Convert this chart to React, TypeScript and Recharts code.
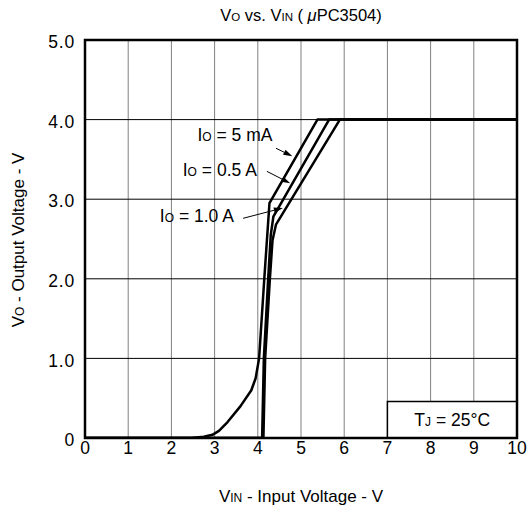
import { LineChart, Line, XAxis, YAxis, CartesianGrid, ReferenceArea, ReferenceLine, ReferenceDot, Label } from 'recharts';

const FONT = '"Liberation Sans", Arial, sans-serif';

const xTicks = [0, 1, 2, 3, 4, 5, 6, 7, 8, 9, 10];
const yTicks = [0, 1, 2, 3, 4, 5];

// Io = 5 mA
const vin5mA = [0, 2.45, 2.75, 2.95, 3.1, 3.3, 3.6, 3.85, 3.95, 4.03, 4.15, 4.27, 5.38, 10];
const vo5mA = [0, 0, 0.015, 0.04, 0.09, 0.2, 0.4, 0.6, 0.75, 1.0, 2.0, 2.95, 4.0, 4.0];
// Io = 0.5 A
const vin05A = [0, 4.1, 4.14, 4.24, 4.3, 4.36, 5.65, 10];
const vo05A = [0, 0, 1.0, 2.0, 2.55, 2.78, 4.0, 4.0];
// Io = 1.0 A
const vin10A = [0, 4.13, 4.17, 4.28, 4.34, 4.42, 5.9, 10];
const vo10A = [0, 0, 1.0, 2.0, 2.48, 2.68, 4.0, 4.0];

const toPoints = (xs: number[], ys: number[]) => xs.map((vin, i) => ({ vin, vo: ys[i] }));

const Arrow = (props: any) => {
  const { x1, y1, x2, y2 } = props;
  const ang = Math.atan2(y2 - y1, x2 - x1);
  const len = 9;
  const w = 2.8;
  const bx = x2 - len * Math.cos(ang);
  const by = y2 - len * Math.sin(ang);
  const px = -Math.sin(ang) * w;
  const py = Math.cos(ang) * w;
  return (
    <g>
      <line x1={x1} y1={y1} x2={bx} y2={by} stroke="#000" strokeWidth={1} />
      <polygon points={`${x2},${y2} ${bx + px},${by + py} ${bx - px},${by - py}`} fill="#000" />
    </g>
  );
};

const ioText = (value: string) => (props: any) => (
  <text x={props.cx} y={props.cy} dy="0.35em" textAnchor="middle" fontSize={17.5} fontFamily={FONT} fill="#000">
    I<tspan fontSize={12}>O</tspan> = {value}
  </text>
);

const XTitle = (props: any) => {
  const { viewBox } = props;
  return (
    <text x={viewBox.x + viewBox.width / 2} y={502} textAnchor="middle" fontSize={17} fontFamily={FONT} fill="#000">
      V<tspan fontSize={12}>IN</tspan> - Input Voltage - V
    </text>
  );
};

const YTitle = () => {
  const cy = 240;
  const cx = 24;
  return (
    <text x={cx} y={cy} transform={`rotate(-90 ${cx} ${cy})`} textAnchor="middle" fontSize={17} fontFamily={FONT} fill="#000">
      V<tspan fontSize={12}>O</tspan> - Output Voltage - V
    </text>
  );
};

const BoxLabel = (props: any) => {
  const { viewBox } = props;
  return (
    <text x={viewBox.x + viewBox.width / 2} y={viewBox.y + viewBox.height / 2} dy="0.35em" textAnchor="middle" fontSize={17.5} fontFamily={FONT} fill="#000">
      T<tspan fontSize={12}>J</tspan> = 25°C
    </text>
  );
};

export default function App() {
  return (
    <div style={{ position: 'absolute', left: 0, top: 0, width: 530, height: 515, background: '#fff' }}>
      <svg width={530} height={30} style={{ position: 'absolute', left: 0, top: 0 }}>
        <text x={301} y={21} textAnchor="middle" fontSize={16.5} fontFamily={FONT} fill="#000">
          V<tspan fontSize={11.5}>O</tspan> vs. V<tspan fontSize={11.5}>IN</tspan> ( <tspan fontStyle="italic">μ</tspan>PC3504)
        </text>
      </svg>
      <LineChart width={530} height={515} margin={{ top: 40, right: 13, bottom: 0, left: 0 }}>
        <CartesianGrid horizontal={false} stroke="#808080" strokeWidth={1} />
        <CartesianGrid vertical={false} stroke="#000" strokeWidth={1} />
        <XAxis
          dataKey="vin"
          type="number"
          domain={[0, 10]}
          ticks={xTicks}
          interval={0}
          allowDataOverflow
          axisLine={false}
          tickLine={false}
          tickSize={4}
          tickMargin={0}
          height={77}
          tick={{ fontSize: 17.5, fill: '#000', fontFamily: FONT }}
        >
          <Label content={XTitle} />
        </XAxis>
        <YAxis
          type="number"
          domain={[0, 5]}
          ticks={yTicks}
          interval={0}
          allowDataOverflow
          axisLine={false}
          tickLine={false}
          tickSize={8}
          tickMargin={2}
          width={85}
          tickFormatter={(v: number) => (v === 0 ? '0' : v.toFixed(1))}
          tick={{ fontSize: 17.5, fill: '#000', fontFamily: FONT, dy: 2, letterSpacing: 0.8 }}
        >
          <Label content={YTitle} />
        </YAxis>
        <ReferenceArea x1={7} x2={10} y1={0} y2={0.46} fill="#fff" fillOpacity={1} stroke="#000" strokeWidth={1.5} label={<Label content={BoxLabel} />} />
        <Line data={toPoints(vin5mA, vo5mA)} dataKey="vo" type="linear" stroke="#000" strokeWidth={2.5} strokeLinejoin="round" dot={false} isAnimationActive={false} />
        <Line data={toPoints(vin05A, vo05A)} dataKey="vo" type="linear" stroke="#000" strokeWidth={2.5} strokeLinejoin="round" dot={false} isAnimationActive={false} />
        <Line data={toPoints(vin10A, vo10A)} dataKey="vo" type="linear" stroke="#000" strokeWidth={2.5} strokeLinejoin="round" dot={false} isAnimationActive={false} />
        <ReferenceArea x1={0} x2={10} y1={0} y2={5} fill="none" stroke="#000" strokeWidth={2.5} />
        <ReferenceLine segment={[{ x: 4.42, y: 3.64 }, { x: 4.8, y: 3.54 }]} shape={Arrow} />
        <ReferenceLine segment={[{ x: 4.21, y: 3.35 }, { x: 4.75, y: 3.2 }]} shape={Arrow} />
        <ReferenceLine segment={[{ x: 3.66, y: 2.76 }, { x: 4.58, y: 2.89 }]} shape={Arrow} />
        <ReferenceDot x={3.47} y={3.81} r={0} shape={ioText('5 mA')} />
        <ReferenceDot x={3.12} y={3.37} r={0} shape={ioText('0.5 A')} />
        <ReferenceDot x={2.59} y={2.79} r={0} shape={ioText('1.0 A')} />
      </LineChart>
    </div>
  );
}
